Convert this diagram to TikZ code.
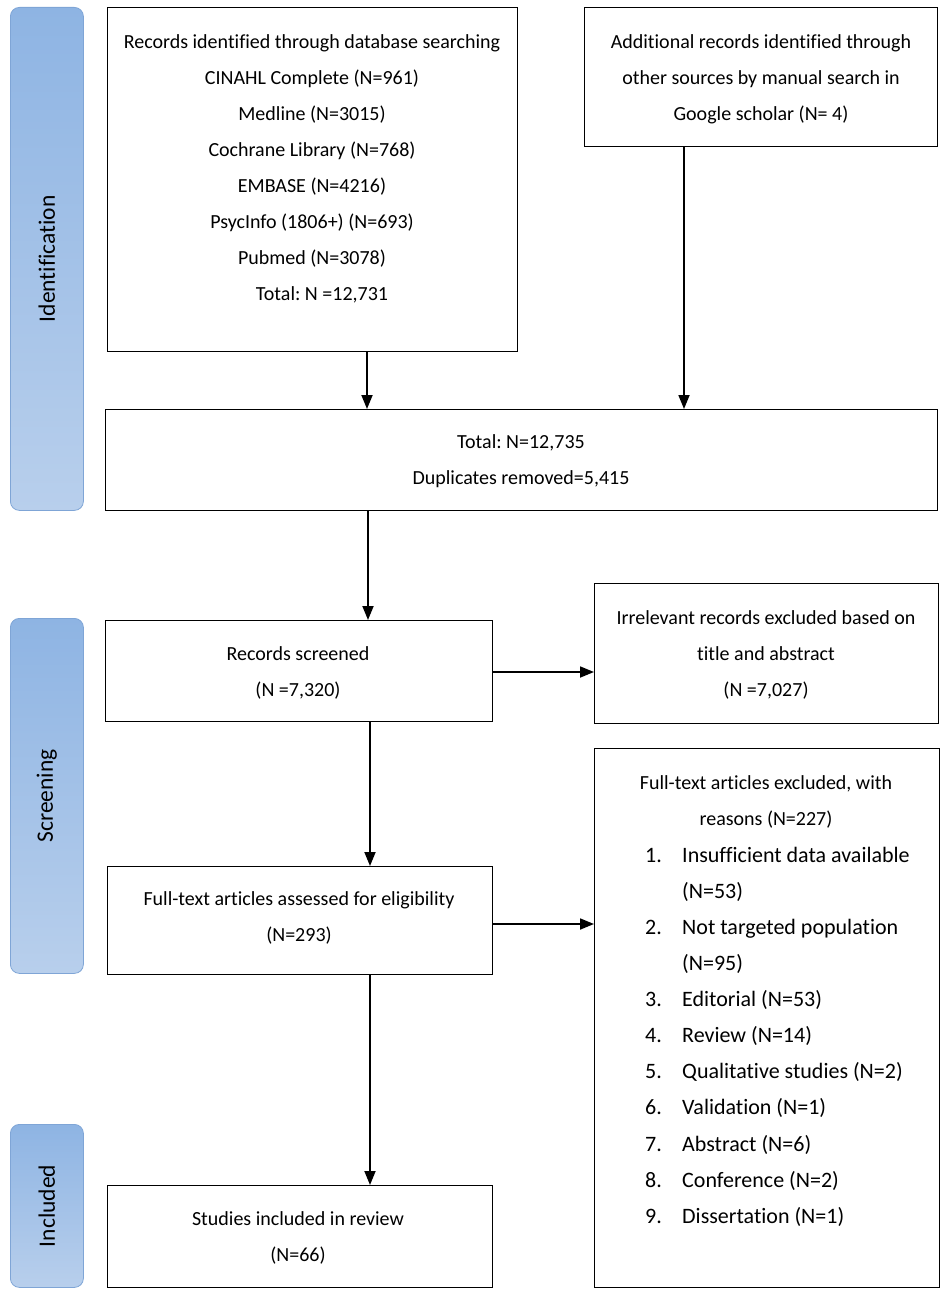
\documentclass[tikz,border=0pt]{standalone}
\usepackage{fontspec}
\setmainfont{Carlito}[Ligatures=NoCommon]
\usetikzlibrary{arrows.meta}
\frenchspacing
\definecolor{phasetop}{HTML}{8EB4E3}
\definecolor{phasebot}{HTML}{B8CFEC}
\definecolor{phaseborder}{HTML}{7FA5D6}
\begin{document}
\begin{tikzpicture}[x=1pt,y=-1pt,
  box/.style={draw=black, line width=1.3pt, fill=white, anchor=north west, inner sep=0pt},
  phase/.style={draw=phaseborder, line width=0.8pt, rounded corners=9pt, top color=phasetop, bottom color=phasebot, anchor=north west, inner sep=0pt},
  txt/.style={align=center, font=\fontsize{20}{36}\selectfont, inner sep=0pt},
  item/.style={anchor=base west, font=\fontsize{22}{36}\selectfont, inner sep=0pt},
  plabel/.style={rotate=90, font=\fontsize{23.5}{26}\selectfont, inner sep=0pt},
  arr/.style={line width=1.8pt, -{Triangle[length=14pt,width=11pt]}},
]
\useasboundingbox (0,0) rectangle (945,1292);

% phase bars
\node[phase, minimum width=73pt, minimum height=503pt] (pI) at (10,7) {};
\node[phase, minimum width=73pt, minimum height=355pt] (pS) at (10,618) {};
\node[phase, minimum width=73pt, minimum height=163pt] (pC) at (10,1124) {};
\node[plabel] (lI) at (pI.center) {Identification};
\node[plabel] (lS) at (pS.center) {Screening};
\node[plabel] (lC) at (pC.center) {Included};

% boxes
\node[box, minimum width=410pt, minimum height=344pt] (A) at (107,7) {};
\node[box, minimum width=353pt, minimum height=139pt] (B) at (584,7) {};
\node[box, minimum width=832pt, minimum height=101pt] (C) at (105,409) {};
\node[box, minimum width=387pt, minimum height=101pt] (D) at (105,620) {};
\node[box, minimum width=344pt, minimum height=140pt] (E) at (594,583) {};
\node[box, minimum width=385pt, minimum height=108pt] (F) at (107,866) {};
\node[box, minimum width=345pt, minimum height=539pt] (G) at (594,748) {};
\node[box, minimum width=385pt, minimum height=102pt] (H) at (107,1185) {};

% texts
\node[txt] (tA) at (312,169) {Records identified through database searching\\
CINAHL Complete (N=961)\\ Medline (N=3015)\\ Cochrane Library (N=768)\\
EMBASE (N=4216)\\ PsycInfo (1806+) (N=693)\\ Pubmed (N=3078)\\
\hspace*{20pt}Total: N =12,731};
\node[txt] (tB) at (761,79) {Additional records identified through\\ other sources by manual search in\\ Google scholar (N= 4)};
\node[txt] (tC) at (521,461) {Total: N=12,735\\ Duplicates removed=5,415};
\node[txt] (tD) at (298,673) {Records screened\\ (N =7,320)};
\node[txt] (tE) at (766,655) {Irrelevant records excluded based on\\ title and abstract\\ (N =7,027)};
\node[txt] (tF) at (299,918) {Full-text articles assessed for eligibility\\ (N=293)};
\node[txt] (tG) at (766,802) {Full-text articles excluded, with\\ reasons (N=227)};
\node[txt] (tH) at (298,1238) {Studies included in review\\ (N=66)};

% list in G
\node[item] (n1) at (645,862) {1.};
\node[item] (i1) at (682,862) {Insufficient data available};
\node[item] (i1b) at (682,898) {(N=53)};
\node[item] (n2) at (645,934) {2.};
\node[item] (i2) at (682,934) {Not targeted population};
\node[item] (i2b) at (682,970) {(N=95)};
\node[item] (n3) at (645,1006) {3.};
\node[item] (i3) at (682,1006) {Editorial (N=53)};
\node[item] (n4) at (645,1042) {4.};
\node[item] (i4) at (682,1042) {Review (N=14)};
\node[item] (n5) at (645,1078) {5.};
\node[item] (i5) at (682,1078) {Qualitative studies (N=2)};
\node[item] (n6) at (645,1114) {6.};
\node[item] (i6) at (682,1114) {Validation (N=1)};
\node[item] (n7) at (645,1151) {7.};
\node[item] (i7) at (682,1151) {Abstract (N=6)};
\node[item] (n8) at (645,1187) {8.};
\node[item] (i8) at (682,1187) {Conference (N=2)};
\node[item] (n9) at (645,1223) {9.};
\node[item] (i9) at (682,1223) {Dissertation (N=1)};

% connectors
\coordinate (xa) at (367,0);
\coordinate (xb) at (684,0);
\coordinate (xc) at (368,0);
\coordinate (xd) at (370,0);
\coordinate (yd) at (0,672);
\coordinate (yf) at (0,924);
\draw[arr] (A.south -| xa) -- (C.north -| xa);
\draw[arr] (B.south -| xb) -- (C.north -| xb);
\draw[arr] (C.south -| xc) -- (D.north -| xc);
\draw[arr] (D.east |- yd) -- (E.west |- yd);
\draw[arr] (D.south -| xd) -- (F.north -| xd);
\draw[arr] (F.east |- yf) -- (G.west |- yf);
\draw[arr] (F.south -| xd) -- (H.north -| xd);
\end{tikzpicture}
\end{document}
